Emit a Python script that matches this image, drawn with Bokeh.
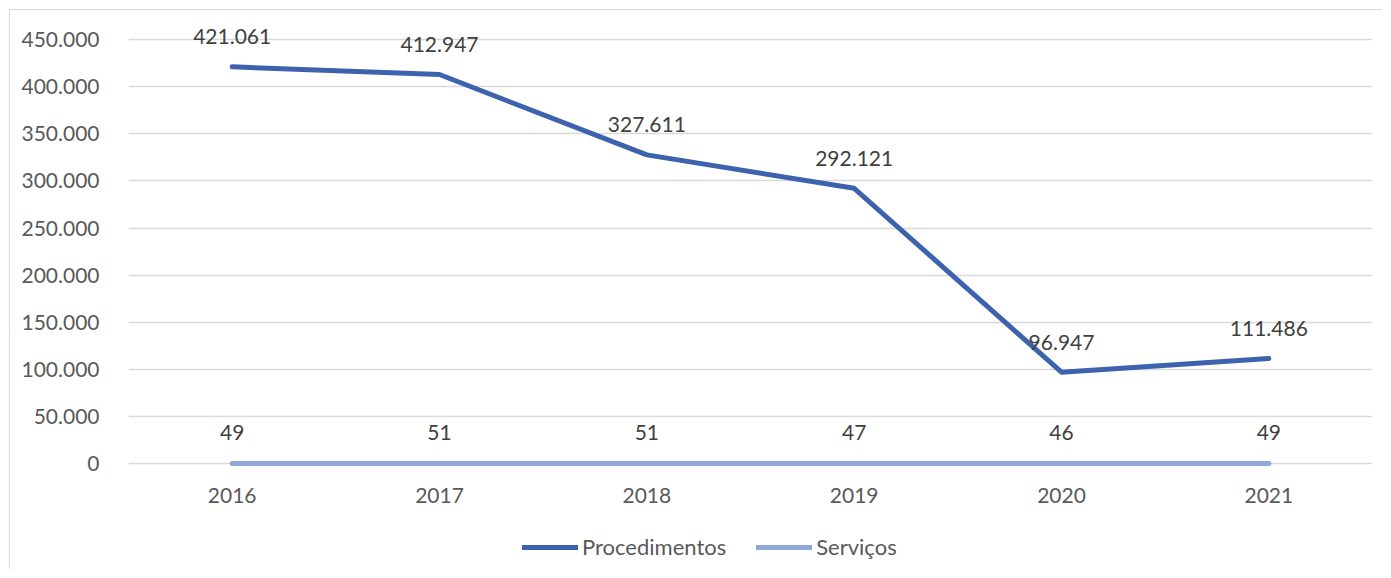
from bokeh.plotting import figure
from bokeh.models import (ColumnDataSource, FixedTicker, CustomJSTickFormatter,
                          Legend, LegendItem, Range1d)
from bokeh.core.properties import value
from bokeh.embed import file_html
from bokeh.resources import INLINE

years = ["2016", "2017", "2018", "2019", "2020", "2021"]
procedimentos = [421061, 412947, 327611, 292121, 96947, 111486]
servicos = [49, 51, 51, 47, 46, 49]
y_ticks = [0, 50000, 100000, 150000, 200000, 250000, 300000, 350000, 400000, 450000]

def fmt(v):
    return f"{v:,}".replace(",", ".")

src = ColumnDataSource(dict(
    x=years,
    proc=procedimentos,
    serv=servicos,
    zero=[0] * len(years),
    proc_lbl=[fmt(v) for v in procedimentos],
    serv_lbl=[fmt(v) for v in servicos],
))

FONT = "Lato"
TXT = "#404040"
TICK = "#595959"
C_PROC = "#3E63AE"
C_SERV = "#8FA8D9"

# 47.1 px per 50,000; frame from y=12 to y=570, value 0 at y=463
p = figure(x_range=years, y_range=Range1d(-113588, 478769),
           width=1373, height=560, output_backend="svg", toolbar_location=None,
           x_axis_location=None,
           min_border_left=118, min_border_right=11, min_border_top=2,
           min_border_bottom=0)
p.styles = {"border-left": "1px solid #D9D9D9", "border-top": "1px solid #D9D9D9",
            "margin-left": "9px", "margin-top": "9px"}
p.outline_line_color = None
p.background_fill_color = "white"
p.border_fill_color = "white"

p.xgrid.grid_line_color = None
p.ygrid.grid_line_color = "#D9D9D9"
p.ygrid.grid_line_width = 1.3
p.ygrid.ticker = FixedTicker(ticks=y_ticks)
p.yaxis.ticker = FixedTicker(ticks=y_ticks)
p.yaxis.formatter = CustomJSTickFormatter(
    code="return tick.toFixed(0).replace(/\\B(?=(\\d{3})+(?!\\d))/g, '.');")
p.yaxis.axis_line_color = None
p.yaxis.major_tick_line_color = None
p.yaxis.minor_tick_line_color = None
p.yaxis.major_label_text_font = FONT
p.yaxis.major_label_text_font_size = "21px"
p.yaxis.major_label_text_color = TICK
p.yaxis.major_label_standoff = 23

r_serv = p.line("x", "serv", source=src, line_color=C_SERV, line_width=5,
                line_cap="round", line_join="round")
r_proc = p.line("x", "proc", source=src, line_color=C_PROC, line_width=5,
                line_cap="round", line_join="round")

# category labels (x axis)
p.text("x", "zero", text="x", source=src, text_font=value(FONT),
       text_font_size="21px", text_color=TICK, text_align="center",
       text_baseline="middle", y_offset=32)

p.text("x", "proc", text="proc_lbl", source=src, text_font=value(FONT),
       text_font_size="21px", text_color=TXT, text_align="center",
       text_baseline="middle", y_offset=-30)
p.text("x", "serv", text="serv_lbl", source=src, text_font=value(FONT),
       text_font_size="21px", text_color=TXT, text_align="center",
       text_baseline="middle", y_offset=-31)

legend = Legend(items=[LegendItem(label="Procedimentos", renderers=[r_proc]),
                       LegendItem(label="Serviços", renderers=[r_serv])],
                orientation="horizontal", location=(394, 10))
legend.glyph_width = 56
legend.glyph_height = 20
legend.label_standoff = 4
legend.spacing = 30
legend.padding = 0
legend.margin = 0
legend.border_line_color = None
legend.background_fill_alpha = 0
legend.label_text_font = FONT
legend.label_text_font_size = "22px"
legend.label_text_color = TICK
p.add_layout(legend, "center")

open("out.html", "w").write(file_html(p, INLINE))
